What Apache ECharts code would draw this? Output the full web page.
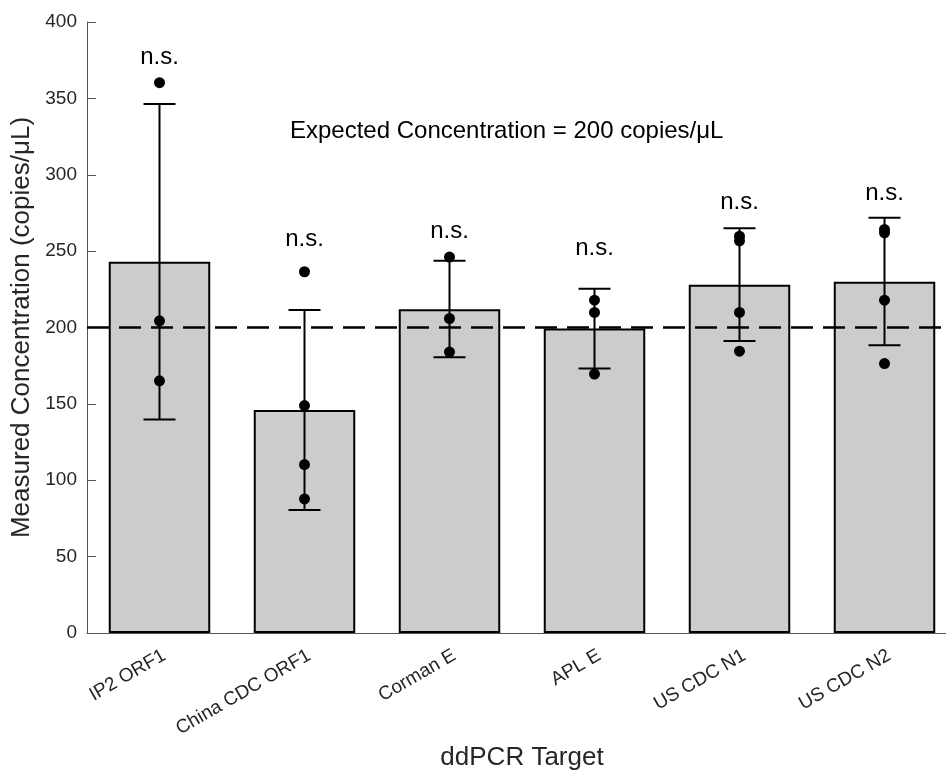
<!DOCTYPE html>
<html>
<head>
<meta charset="utf-8">
<script src="https://cdn.jsdelivr.net/npm/echarts@6/dist/echarts.min.js"></script>
<style>html,body{margin:0;padding:0;background:#fff}#c{width:946px;height:772px}</style>
</head>
<body>
<div id="c"></div>
<script>
const categories = ['IP2 ORF1', 'China CDC ORF1', 'Corman E', 'APL E', 'US CDC N1', 'US CDC N2'];
const meanValues = [243, 146, 212, 199.4, 228, 230];
const errLow = [139.8, 80.6, 180.6, 173.2, 191.1, 188.4];
const errHigh = [346.3, 211.4, 243.7, 225.3, 264.9, 271.8];
const replicates = [
  [360.3, 204.4, 165.1],
  [236.5, 148.9, 110.3, 87.8],
  [246.1, 205.9, 183.9],
  [217.9, 209.9, 169.5],
  [259.8, 256.8, 209.9, 184.5],
  [264.2, 262.0, 217.9, 176.4]
];
const nsLabelY = [377, 258, 263, 252, 282, 288];
const expectedValue = 200;
const yTicks = { min: 0, max: 400, interval: 50 };

const FONT = '"Liberation Sans", Arial, Helvetica, sans-serif';
const points = [];
replicates.forEach((arr, i) => arr.forEach(v => points.push([i, v])));
const errData = categories.map((c, i) => [i, errLow[i], errHigh[i]]);
const nsData = categories.map((c, i) => [i, nsLabelY[i]]);

const chart = echarts.init(document.getElementById('c'), null, { renderer: 'canvas' });
chart.setOption({
  backgroundColor: '#fff',
  animation: false,
  textStyle: { fontFamily: FONT },
  grid: { left: 87, top: 22, width: 870, height: 611, containLabel: false, outerBoundsMode: 'none' },
  graphic: [{
    type: 'text', left: 290, top: 119,
    style: { text: 'Expected Concentration = 200 copies/\u03bcL', font: '24px ' + FONT, fill: '#000' }
  }],
  xAxis: {
    type: 'category', data: categories, boundaryGap: true,
    name: 'ddPCR Target', nameLocation: 'middle', nameGap: 112,
    nameTextStyle: { fontSize: 26, color: '#262626', fontFamily: FONT },
    axisLine: { lineStyle: { color: '#555', width: 1 } },
    axisTick: { show: false },
    axisLabel: { rotate: 30, fontSize: 19, color: '#262626', margin: 13, fontFamily: FONT, interval: 0,
                 verticalAlign: 'top' },
    splitLine: { show: false }
  },
  yAxis: {
    type: 'value', min: yTicks.min, max: yTicks.max, interval: yTicks.interval,
    name: 'Measured Concentration (copies/\u03bcL)', nameLocation: 'middle', nameGap: 45,
    nameTextStyle: { fontSize: 26, color: '#262626', fontFamily: FONT },
    axisLine: { show: true, lineStyle: { color: '#555', width: 1 } },
    axisTick: { show: true, inside: true, length: 9, lineStyle: { color: '#555' } },
    axisLabel: { fontSize: 19, color: '#262626', margin: 10, fontFamily: FONT },
    splitLine: { show: false }
  },
  series: [
    {
      type: 'bar', data: meanValues, barWidth: '70%', z: 1,
      itemStyle: { color: '#cccccc', borderColor: '#000', borderWidth: 2 },
      markLine: {
        silent: true, symbol: 'none', z: 3,
        label: { show: false },
        lineStyle: { color: '#000', width: 2.5, type: [22, 10], opacity: 1 },
        data: [{ yAxis: expectedValue }]
      }
    },
    {
      type: 'custom', data: errData, z: 4,
      renderItem: function (params, api) {
        const i = api.value(0);
        const lo = api.coord([i, api.value(1)]);
        const hi = api.coord([i, api.value(2)]);
        const hw = 16;
        const st = { stroke: '#000', lineWidth: 2 };
        return { type: 'group', children: [
          { type: 'line', shape: { x1: lo[0], y1: lo[1], x2: hi[0], y2: hi[1] }, style: st },
          { type: 'line', shape: { x1: lo[0] - hw, y1: lo[1], x2: lo[0] + hw, y2: lo[1] }, style: st },
          { type: 'line', shape: { x1: hi[0] - hw, y1: hi[1], x2: hi[0] + hw, y2: hi[1] }, style: st }
        ]};
      }
    },
    {
      type: 'scatter', data: points, symbol: 'circle', symbolSize: 11, z: 5,
      itemStyle: { color: '#000', opacity: 1 }
    },
    {
      type: 'scatter', data: nsData, symbolSize: 0, z: 5,
      itemStyle: { opacity: 1 },
      label: { show: true, position: 'inside', formatter: 'n.s.', fontSize: 24, color: '#000', opacity: 1, fontFamily: FONT }
    }
  ]
});
</script>
</body>
</html>
